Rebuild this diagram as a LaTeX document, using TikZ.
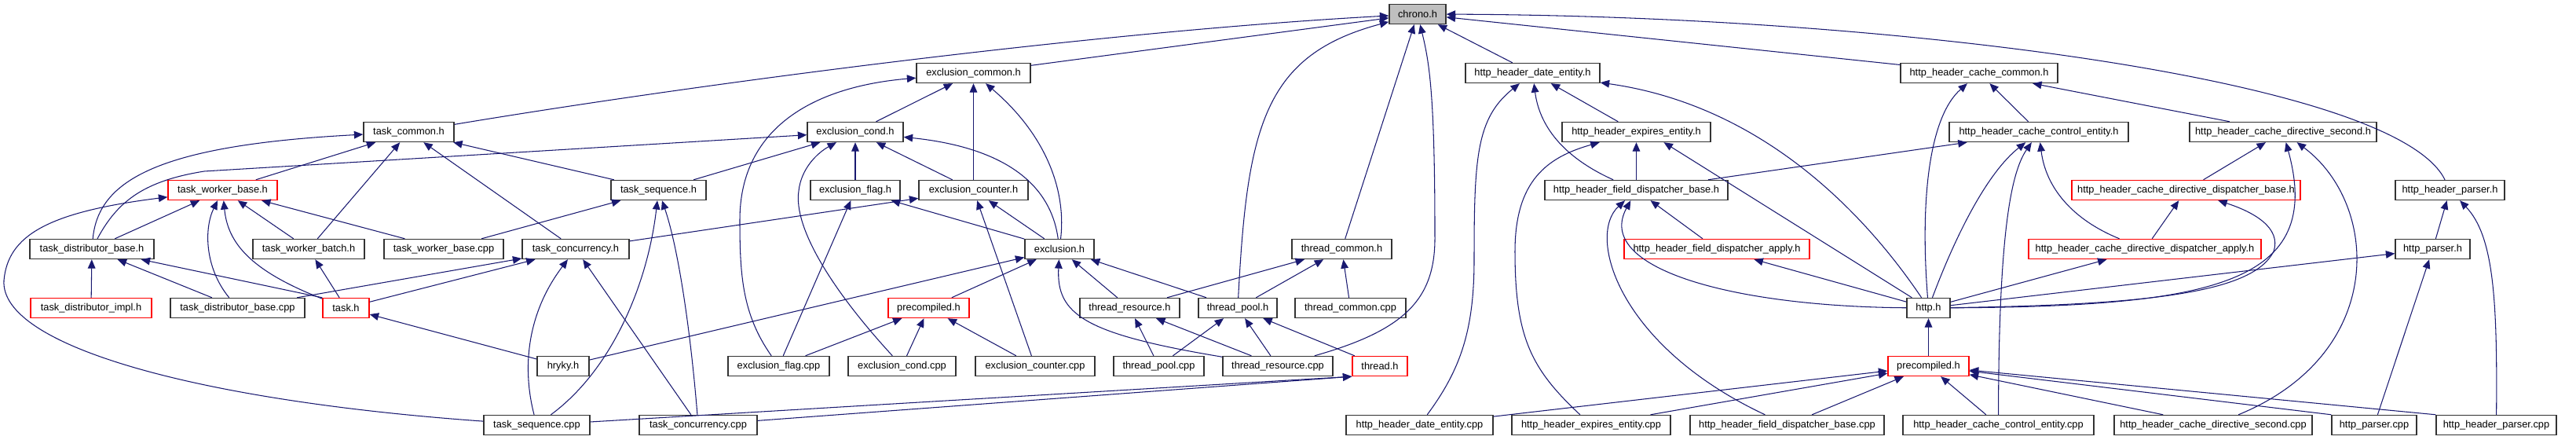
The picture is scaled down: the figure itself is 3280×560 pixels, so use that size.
\documentclass[tikz,border=0pt]{standalone}
\usepackage{fontspec}
\setmainfont{Liberation Sans}
\usetikzlibrary{arrows.meta}
\definecolor{edgeblue}{HTML}{191970}
\definecolor{rootgray}{HTML}{BFBFBF}
\tikzset{
  file/.style={draw=black!80, line width=0.8pt, fill=white, minimum height=0.5cm,
    inner xsep=2pt, inner ysep=0pt, font=\fontsize{7.3}{9}\selectfont},
  trunc/.style={file, draw=red},
  root/.style={file, fill=rootgray},
  inc/.style={draw=edgeblue, line width=0.6pt, -{Triangle[length=6.5pt,width=5.5pt]}}
}

\begin{document}
\begin{tikzpicture}[x=0.02cm, y=-0.02cm]
    \useasboundingbox (0,0) rectangle (3280,560);

    % row 0
    \node[root, minimum width=1.44cm] (chrono) at (1805,18) {chrono.h};
    % row 1
    \node[file, minimum width=2.90cm] (exccommon) at (1239.5,93) {exclusion\_common.h};
    \node[file, minimum width=3.42cm] (dateent) at (1951.5,93) {http\_header\_date\_entity.h};
    \node[file, minimum width=4.00cm] (cachecommon) at (2520,93) {http\_header\_cache\_common.h};
    % row 2
    \node[file, minimum width=2.30cm] (taskcommon) at (520.5,168) {task\_common.h};
    \node[file, minimum width=2.44cm] (exccond) at (1089,168) {exclusion\_cond.h};
    \node[file, minimum width=3.78cm] (expent) at (2083.5,168) {http\_header\_expires\_entity.h};
    \node[file, minimum width=4.56cm] (cachectl) at (2596,168) {http\_header\_cache\_control\_entity.h};
    \node[file, minimum width=4.76cm] (cachesec) at (2907,168) {http\_header\_cache\_directive\_second.h};
    % row 3
    \node[trunc, minimum width=2.78cm] (workerbase) at (283.5,242) {task\_worker\_base.h};
    \node[file, minimum width=2.42cm] (taskseq) at (838.5,242) {task\_sequence.h};
    \node[file, minimum width=2.28cm] (excflag) at (1089,242) {exclusion\_flag.h};
    \node[file, minimum width=2.78cm] (exccounter) at (1239.5,242) {exclusion\_counter.h};
    \node[file, minimum width=4.66cm] (fielddispbase) at (2083.5,242) {http\_header\_field\_dispatcher\_base.h};
    \node[trunc, minimum width=5.82cm] (cachedispbase) at (2783.5,242) {http\_header\_cache\_directive\_dispatcher\_base.h};
    \node[file, minimum width=2.78cm] (hdrparserh) at (3119.5,242) {http\_header\_parser.h};
    % row 4
    \node[file, minimum width=3.16cm] (distbase) at (117,317) {task\_distributor\_base.h};
    \node[file, minimum width=2.84cm] (workerbatch) at (393,317) {task\_worker\_batch.h};
    \node[file, minimum width=3.04cm] (workerbasecpp) at (565,317) {task\_worker\_base.cpp};
    \node[file, minimum width=2.72cm] (taskconc) at (733,317) {task\_concurrency.h};
    \node[file, minimum width=1.76cm] (exclusion) at (1349,317) {exclusion.h};
    \node[file, minimum width=2.54cm] (threadcommon) at (1708.5,317) {thread\_common.h};
    \node[trunc, minimum width=4.72cm] (fielddispapply) at (2186,317) {http\_header\_field\_dispatcher\_apply.h};
    \node[trunc, minimum width=5.92cm] (cachedispapply) at (2731,317) {http\_header\_cache\_directive\_dispatcher\_apply.h};
    \node[file, minimum width=1.90cm] (httpparserh) at (3097.5,317) {http\_parser.h};
    % row 5
    \node[trunc, minimum width=3.08cm] (distimpl) at (116,392) {task\_distributor\_impl.h};
    \node[file, minimum width=3.42cm] (distbasecpp) at (302.5,392) {task\_distributor\_base.cpp};
    \node[trunc, minimum width=1.18cm] (taskh) at (440.5,392) {task.h};
    \node[trunc, minimum width=2.06cm] (precompA) at (1182.5,392) {precompiled.h};
    \node[file, minimum width=2.54cm] (threadres) at (1438.5,392) {thread\_resource.h};
    \node[file, minimum width=2.00cm] (threadpool) at (1576,392) {thread\_pool.h};
    \node[file, minimum width=2.82cm] (threadcommoncpp) at (1719.5,392) {thread\_common.cpp};
    \node[file, minimum width=1.10cm] (httph) at (2455.5,392) {http.h};
    % row 6
    \node[file, minimum width=1.32cm] (hryky) at (717,466) {hryky.h};
    \node[file, minimum width=2.58cm] (excflagcpp) at (991.5,466) {exclusion\_flag.cpp};
    \node[file, minimum width=2.74cm] (exccondcpp) at (1148.5,466) {exclusion\_cond.cpp};
    \node[file, minimum width=3.04cm] (exccountercpp) at (1318,466) {exclusion\_counter.cpp};
    \node[file, minimum width=2.30cm] (threadpoolcpp) at (1475.5,466) {thread\_pool.cpp};
    \node[file, minimum width=2.80cm] (threadrescpp) at (1627,466) {thread\_resource.cpp};
    \node[trunc, minimum width=1.40cm] (threadh) at (1757,466) {thread.h};
    \node[trunc, minimum width=2.06cm] (precompB) at (2455.5,466) {precompiled.h};
    % row 7
    \node[file, minimum width=2.70cm] (taskseqcpp) at (683.5,541) {task\_sequence.cpp};
    \node[file, minimum width=3.00cm] (taskconccpp) at (889,541) {task\_concurrency.cpp};
    \node[file, minimum width=3.74cm] (dateentcpp) at (1807.5,541) {http\_header\_date\_entity.cpp};
    \node[file, minimum width=4.04cm] (expentcpp) at (2026,541) {http\_header\_expires\_entity.cpp};
    \node[file, minimum width=4.94cm] (fielddispbasecpp) at (2275.5,541) {http\_header\_field\_dispatcher\_base.cpp};
    \node[file, minimum width=4.86cm] (cachectlcpp) at (2544.5,541) {http\_header\_cache\_control\_entity.cpp};
    \node[file, minimum width=5.04cm] (cachesecondcpp) at (2818,541) {http\_header\_cache\_directive\_second.cpp};
    \node[file, minimum width=2.16cm] (httpparsercpp) at (3023,541) {http\_parser.cpp};
    \node[file, minimum width=3.06cm] (hdrparsercpp) at (3178.5,541) {http\_header\_parser.cpp};

    % includes of chrono.h
    \draw[inc] (taskcommon) .. controls (900,105) and (1400,40) .. (chrono);
    \draw[inc] (exccommon) -- (chrono);
    \draw[inc] (threadpool) .. controls (1588,160) and (1610,70) .. (chrono);
    \draw[inc] (threadcommon) -- (chrono);
    \draw[inc] (threadrescpp) .. controls (1790,420) and (1828,380) .. (1827,300)
        .. controls (1827,120) and (1820,80) .. (chrono);
    \draw[inc] (dateent) -- (chrono);
    \draw[inc] (cachecommon) -- (chrono);
    \draw[inc] (hdrparserh) .. controls (3050,100) and (2400,20) .. (chrono);

    % exclusion
    \draw[inc] (exccond) -- (exccommon);
    \draw[inc] (exccounter) -- (exccommon);
    \draw[inc] (exclusion) .. controls (1358,240) and (1330,170) .. (exccommon);
    \draw[inc] (excflagcpp) .. controls (945,400) and (942,350) .. (942,280)
        .. controls (942,160) and (1040,110) .. (exccommon);
    \draw[inc] (distbase) .. controls (150,255) and (185,230) .. (260,218) -- (exccond);
    \draw[inc] (taskseq) -- (exccond);
    \draw[inc] (excflag) -- (exccond);
    \draw[inc] (exccondcpp) .. controls (1060,370) and (1010,290) .. (1017,243)
        .. controls (1020,215) and (1040,195) .. (exccond);
    \draw[inc] (exccounter) -- (exccond);
    \draw[inc] (exclusion) .. controls (1340,250) and (1300,190) .. (exccond);
    \draw[inc] (exclusion) -- (excflag);
    \draw[inc] (excflagcpp) -- (excflag);
    \draw[inc] (taskconc) -- (exccounter);
    \draw[inc] (exclusion) -- (exccounter);
    \draw[inc] (exccountercpp) -- (exccounter);
    \draw[inc] (hryky) -- (exclusion);
    \draw[inc] (precompA) -- (exclusion);
    \draw[inc] (threadres) -- (exclusion);
    \draw[inc] (threadpool) -- (exclusion);
    \draw[inc] (threadrescpp) .. controls (1380,425) and (1345,400) .. (exclusion);
    \draw[inc] (excflagcpp) -- (precompA);
    \draw[inc] (exccondcpp) -- (precompA);
    \draw[inc] (exccountercpp) -- (precompA);

    % task
    \draw[inc] (distbase) .. controls (125,230) and (200,185) .. (taskcommon);
    \draw[inc] (workerbase) -- (taskcommon);
    \draw[inc] (workerbatch) -- (taskcommon);
    \draw[inc] (taskconc) -- (taskcommon);
    \draw[inc] (taskseq) -- (taskcommon);
    \draw[inc] (distbase) -- (workerbase);
    \draw[inc] (taskseqcpp) .. controls (250,510) and (0,440) .. (5,357)
        .. controls (10,300) and (60,270) .. (workerbase);
    \draw[inc] (distbasecpp) .. controls (260,340) and (260,290) .. (workerbase);
    \draw[inc] (taskh) .. controls (320,345) and (290,310) .. (workerbase);
    \draw[inc] (workerbatch) -- (workerbase);
    \draw[inc] (workerbasecpp) -- (workerbase);
    \draw[inc] (distimpl) -- (distbase);
    \draw[inc] (distbasecpp) -- (distbase);
    \draw[inc] (taskh.north west) -- (distbase);
    \draw[inc] (taskh) -- (workerbatch);
    \draw[inc] (workerbasecpp) -- (taskseq);
    \draw[inc] (taskseqcpp) .. controls (780,470) and (825,360) .. (taskseq);
    \draw[inc] (taskconccpp) .. controls (880,430) and (865,320) .. (taskseq);
    \draw[inc] (distbasecpp) -- (taskconc);
    \draw[inc] (taskh) -- (taskconc);
    \draw[inc] (taskseqcpp) .. controls (665,470) and (670,400) .. (taskconc);
    \draw[inc] (taskconccpp) -- (taskconc);
    \draw[inc] (hryky) -- (taskh);

    % thread
    \draw[inc] (threadres) -- (threadcommon);
    \draw[inc] (threadpool) -- (threadcommon);
    \draw[inc] (threadcommoncpp) -- (threadcommon);
    \draw[inc] (threadpoolcpp) -- (threadres);
    \draw[inc] (threadrescpp) -- (threadres);
    \draw[inc] (threadpoolcpp) -- (threadpool);
    \draw[inc] (threadrescpp) -- (threadpool);
    \draw[inc] (threadh) -- (threadpool);
    \draw[inc] (taskseqcpp) -- (threadh.south west);
    \draw[inc] (taskconccpp) -- (threadh.south west);

    % http headers
    \draw[inc] (dateentcpp) .. controls (1860,470) and (1877,420) .. (1877,330)
        .. controls (1877,200) and (1880,150) .. (dateent);
    \draw[inc] (fielddispbase) .. controls (1990,200) and (1960,160) .. (dateent);
    \draw[inc] (expent) -- (dateent);
    \draw[inc] (httph) .. controls (2380,280) and (2250,135) .. (dateent);
    \draw[inc] (expentcpp) .. controls (1950,470) and (1929,430) .. (1929,320)
        .. controls (1929,230) and (1970,200) .. (expent);
    \draw[inc] (fielddispbase) -- (expent);
    \draw[inc] (httph) -- ([xshift=0.7cm]expent.south);
    \draw[inc] (fielddispapply) -- (fielddispbase);
    \draw[inc] (fielddispbasecpp) .. controls (2060,440) and (2020,300) .. (fielddispbase);
    \draw[inc] (httph) .. controls (2200,390) and (2030,340) .. (fielddispbase);
    \draw[inc] (fielddispbase) -- (cachectl);
    \draw[inc] (httph) .. controls (2490,300) and (2530,220) .. (cachectl);
    \draw[inc] (cachectlcpp) .. controls (2545,300) and (2560,220) .. (cachectl);
    \draw[inc] (cachedispapply) .. controls (2640,280) and (2605,240) .. (cachectl);
    \draw[inc] (httph) .. controls (2445,260) and (2455,150) .. (cachecommon);
    \draw[inc] (cachectl) -- (cachecommon);
    \draw[inc] (cachesec) -- (cachecommon);
    \draw[inc] (cachedispbase) -- (cachesec);
    \draw[inc] (httph) .. controls (2820,390) and (2960,360) .. (cachesec);
    \draw[inc] (cachesecondcpp) .. controls (3040,450) and (3030,260) .. (cachesec);
    \draw[inc] (cachedispapply) -- (cachedispbase);
    \draw[inc] (httph) .. controls (2750,388) and (2870,370) .. (2895,320)
        .. controls (2905,290) and (2870,270) .. (cachedispbase);
    \draw[inc] (httph) -- (cachedispapply);
    \draw[inc] (httph) -- (fielddispapply);
    \draw[inc] (httph) -- (httpparserh);
    \draw[inc] (httpparsercpp) -- (httpparserh);
    \draw[inc] (httpparserh) -- (hdrparserh);
    \draw[inc] (hdrparsercpp) .. controls (3180,380) and (3175,300) .. (hdrparserh);

    % precompiled.h of http
    \draw[inc] (precompB) -- (httph);
    \draw[inc] (dateentcpp) -- (precompB);
    \draw[inc] (expentcpp) -- (precompB);
    \draw[inc] (fielddispbasecpp) -- (precompB);
    \draw[inc] (cachectlcpp) -- (precompB);
    \draw[inc] (cachesecondcpp) -- (precompB);
    \draw[inc] (httpparsercpp.north west) -- (precompB);
    \draw[inc] (hdrparsercpp.north west) -- (precompB);
\end{tikzpicture}
\end{document}
